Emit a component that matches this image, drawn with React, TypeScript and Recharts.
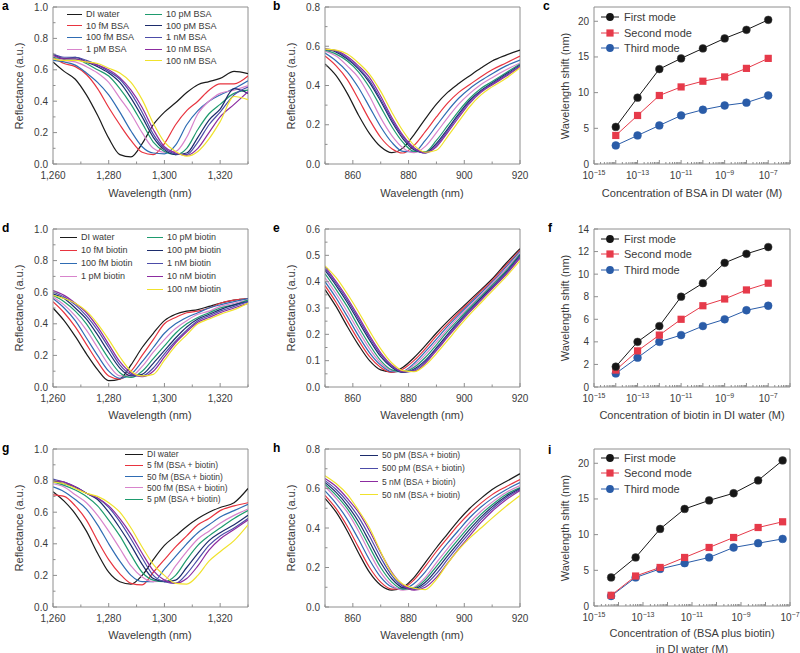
import React from 'react';
import { LineChart, Line, XAxis, YAxis, ReferenceLine } from 'recharts';

const FONT = '"Liberation Sans", Arial, Helvetica, sans-serif';
const AXIS = '#8e8e8e';
const INK = '#3a3a3a';

// one colour per concentration, same order in every spectrum panel
const curveColors = ['#1b1b1b', '#e8343f', '#2f6cb3', '#d884cc', '#1e9b6e', '#1c2c6c', '#4c4ca8', '#8c2ca0', '#f0e22c'];

// ---------- 1,260-1,330 nm band (panels a, d, g) ----------
const wlLong = [1260, 1264, 1268, 1272, 1276, 1280, 1284, 1288, 1292, 1296, 1300, 1304, 1308, 1312, 1316, 1320, 1325, 1330];

const aDI = [0.65, 0.59, 0.54, 0.44, 0.31, 0.165, 0.06, 0.045, 0.13, 0.25, 0.33, 0.39, 0.455, 0.505, 0.525, 0.545, 0.59, 0.575];
const a10f = [0.68, 0.64, 0.62, 0.57, 0.48, 0.36, 0.25, 0.15, 0.075, 0.06, 0.13, 0.25, 0.34, 0.40, 0.47, 0.51, 0.51, 0.56];
const a100f = [0.66, 0.65, 0.63, 0.58, 0.52, 0.44, 0.33, 0.21, 0.11, 0.07, 0.065, 0.12, 0.25, 0.34, 0.40, 0.44, 0.48, 0.53];
const a1p = [0.67, 0.66, 0.65, 0.62, 0.58, 0.52, 0.42, 0.32, 0.20, 0.10, 0.075, 0.08, 0.17, 0.32, 0.40, 0.45, 0.47, 0.50];
const a10p = [0.68, 0.67, 0.67, 0.64, 0.60, 0.56, 0.48, 0.38, 0.26, 0.14, 0.08, 0.06, 0.10, 0.22, 0.32, 0.38, 0.45, 0.47];
const a100p = [0.70, 0.67, 0.68, 0.65, 0.62, 0.58, 0.52, 0.42, 0.30, 0.17, 0.09, 0.06, 0.07, 0.17, 0.28, 0.35, 0.48, 0.45];
const a1n = [0.70, 0.68, 0.68, 0.66, 0.63, 0.59, 0.54, 0.45, 0.33, 0.19, 0.10, 0.065, 0.06, 0.14, 0.25, 0.33, 0.44, 0.49];
const a10n = [0.69, 0.67, 0.67, 0.65, 0.63, 0.60, 0.55, 0.47, 0.36, 0.22, 0.11, 0.07, 0.055, 0.10, 0.20, 0.30, 0.38, 0.46];
const a100n = [0.67, 0.66, 0.66, 0.65, 0.64, 0.61, 0.58, 0.52, 0.41, 0.26, 0.14, 0.08, 0.05, 0.08, 0.16, 0.27, 0.43, 0.41];
const aNames = ['DI water', '10 fM BSA', '100 fM BSA', '1 pM BSA', '10 pM BSA', '100 pM BSA', '1 nM BSA', '10 nM BSA', '100 nM BSA'];

const dDI = [0.50, 0.42, 0.32, 0.21, 0.11, 0.04, 0.05, 0.14, 0.25, 0.34, 0.42, 0.46, 0.48, 0.49, 0.51, 0.53, 0.55, 0.56];
const d10f = [0.54, 0.47, 0.38, 0.27, 0.16, 0.07, 0.05, 0.10, 0.20, 0.30, 0.40, 0.44, 0.47, 0.48, 0.50, 0.53, 0.55, 0.56];
const d100f = [0.56, 0.50, 0.42, 0.31, 0.20, 0.10, 0.055, 0.08, 0.16, 0.25, 0.34, 0.40, 0.44, 0.47, 0.50, 0.52, 0.54, 0.56];
const d1p = [0.57, 0.52, 0.45, 0.36, 0.25, 0.14, 0.07, 0.07, 0.13, 0.22, 0.30, 0.37, 0.42, 0.46, 0.48, 0.51, 0.53, 0.55];
const d10p = [0.58, 0.54, 0.48, 0.40, 0.29, 0.18, 0.09, 0.06, 0.10, 0.18, 0.26, 0.34, 0.40, 0.44, 0.47, 0.50, 0.52, 0.55];
const d100p = [0.59, 0.56, 0.50, 0.43, 0.33, 0.22, 0.12, 0.07, 0.08, 0.15, 0.23, 0.31, 0.38, 0.43, 0.46, 0.49, 0.52, 0.54];
const d1n = [0.60, 0.57, 0.52, 0.45, 0.36, 0.25, 0.14, 0.08, 0.07, 0.12, 0.21, 0.29, 0.36, 0.42, 0.45, 0.48, 0.51, 0.54];
const d10n = [0.61, 0.58, 0.53, 0.47, 0.38, 0.27, 0.16, 0.09, 0.065, 0.10, 0.19, 0.28, 0.35, 0.41, 0.44, 0.47, 0.50, 0.53];
const d100n = [0.58, 0.56, 0.53, 0.48, 0.40, 0.30, 0.19, 0.10, 0.07, 0.08, 0.17, 0.26, 0.33, 0.40, 0.43, 0.46, 0.49, 0.53];
const dNames = ['DI water', '10 fM biotin', '100 fM biotin', '1 pM biotin', '10 pM biotin', '100 pM biotin', '1 nM biotin', '10 nM biotin', '100 nM biotin'];

const gDI = [0.73, 0.67, 0.59, 0.48, 0.34, 0.22, 0.16, 0.145, 0.20, 0.30, 0.39, 0.45, 0.51, 0.56, 0.60, 0.63, 0.66, 0.75];
const g5f = [0.71, 0.70, 0.64, 0.55, 0.42, 0.30, 0.21, 0.15, 0.14, 0.22, 0.30, 0.38, 0.45, 0.52, 0.56, 0.61, 0.64, 0.66];
const g50f = [0.76, 0.73, 0.68, 0.62, 0.52, 0.40, 0.29, 0.20, 0.16, 0.16, 0.24, 0.32, 0.40, 0.47, 0.52, 0.57, 0.61, 0.65];
const g500f = [0.78, 0.76, 0.71, 0.66, 0.58, 0.48, 0.37, 0.26, 0.19, 0.16, 0.17, 0.26, 0.35, 0.43, 0.48, 0.53, 0.58, 0.62];
const g5p = [0.79, 0.77, 0.74, 0.70, 0.64, 0.55, 0.45, 0.33, 0.22, 0.17, 0.16, 0.20, 0.30, 0.39, 0.45, 0.50, 0.56, 0.61];
const g50p = [0.80, 0.78, 0.76, 0.72, 0.68, 0.60, 0.50, 0.39, 0.27, 0.18, 0.16, 0.17, 0.25, 0.34, 0.42, 0.47, 0.52, 0.58];
const g500p = [0.81, 0.79, 0.76, 0.72, 0.69, 0.63, 0.54, 0.43, 0.31, 0.20, 0.16, 0.15, 0.21, 0.30, 0.39, 0.45, 0.50, 0.56];
const g5n = [0.80, 0.79, 0.76, 0.72, 0.69, 0.64, 0.56, 0.46, 0.34, 0.23, 0.17, 0.15, 0.18, 0.26, 0.36, 0.43, 0.49, 0.55];
const g50n = [0.79, 0.78, 0.75, 0.72, 0.70, 0.66, 0.60, 0.50, 0.38, 0.27, 0.20, 0.15, 0.145, 0.20, 0.29, 0.35, 0.42, 0.52];
const gNames = ['DI water', '5 fM (BSA + biotin)', '50 fM (BSA + biotin)', '500 fM (BSA + biotin)', '5 pM (BSA + biotin)', '50 pM (BSA + biotin)', '500 pM (BSA + biotin)', '5 nM (BSA + biotin)', '50 nM (BSA + biotin)'];

// ---------- 850-920 nm band (panels b, e, h) ----------
const wlShort = [850, 854, 858, 862, 866, 870, 874, 878, 882, 886, 890, 894, 898, 902, 906, 910, 915, 920];

const bDI = [0.51, 0.45, 0.36, 0.25, 0.155, 0.088, 0.058, 0.082, 0.15, 0.23, 0.305, 0.365, 0.41, 0.45, 0.489, 0.525, 0.555, 0.58];
const b10f = [0.55, 0.50, 0.43, 0.33, 0.225, 0.135, 0.078, 0.056, 0.095, 0.165, 0.24, 0.31, 0.365, 0.405, 0.445, 0.48, 0.515, 0.55];
const b100f = [0.565, 0.525, 0.47, 0.39, 0.29, 0.19, 0.11, 0.064, 0.062, 0.12, 0.195, 0.27, 0.335, 0.385, 0.425, 0.46, 0.50, 0.53];
const b1p = [0.575, 0.55, 0.50, 0.44, 0.345, 0.235, 0.145, 0.082, 0.058, 0.09, 0.16, 0.235, 0.305, 0.36, 0.405, 0.44, 0.48, 0.515];
const b10p = [0.58, 0.56, 0.525, 0.47, 0.39, 0.29, 0.19, 0.11, 0.064, 0.062, 0.12, 0.195, 0.27, 0.335, 0.385, 0.42, 0.465, 0.51];
const b100p = [0.585, 0.57, 0.535, 0.485, 0.415, 0.32, 0.215, 0.128, 0.072, 0.058, 0.105, 0.178, 0.255, 0.325, 0.375, 0.413, 0.458, 0.505];
const b1n = [0.585, 0.575, 0.54, 0.49, 0.425, 0.33, 0.225, 0.138, 0.078, 0.056, 0.097, 0.17, 0.248, 0.318, 0.37, 0.408, 0.452, 0.50];
const b10n = [0.585, 0.578, 0.548, 0.50, 0.44, 0.345, 0.237, 0.146, 0.083, 0.057, 0.088, 0.16, 0.237, 0.31, 0.365, 0.403, 0.447, 0.495];
const b100n = [0.585, 0.58, 0.56, 0.515, 0.457, 0.37, 0.264, 0.168, 0.095, 0.06, 0.07, 0.14, 0.217, 0.293, 0.352, 0.393, 0.437, 0.49];

const eDI = [0.37, 0.305, 0.23, 0.16, 0.10, 0.065, 0.057, 0.075, 0.112, 0.157, 0.205, 0.249, 0.29, 0.33, 0.37, 0.41, 0.47, 0.525];
const e10f = [0.385, 0.321, 0.249, 0.178, 0.115, 0.074, 0.055, 0.068, 0.101, 0.145, 0.194, 0.239, 0.282, 0.323, 0.364, 0.404, 0.463, 0.52];
const e100f = [0.40, 0.338, 0.268, 0.195, 0.13, 0.083, 0.058, 0.06, 0.09, 0.134, 0.182, 0.23, 0.274, 0.316, 0.357, 0.398, 0.456, 0.515];
const e1p = [0.415, 0.354, 0.286, 0.213, 0.145, 0.091, 0.062, 0.058, 0.083, 0.123, 0.171, 0.22, 0.266, 0.308, 0.351, 0.393, 0.449, 0.51];
const e10p = [0.43, 0.37, 0.305, 0.23, 0.16, 0.10, 0.065, 0.057, 0.075, 0.112, 0.16, 0.211, 0.257, 0.301, 0.344, 0.387, 0.442, 0.505];
const e100p = [0.443, 0.385, 0.321, 0.249, 0.178, 0.115, 0.074, 0.055, 0.068, 0.101, 0.149, 0.20, 0.249, 0.294, 0.338, 0.381, 0.436, 0.50];
const e1n = [0.45, 0.393, 0.33, 0.259, 0.187, 0.123, 0.079, 0.057, 0.064, 0.096, 0.144, 0.194, 0.244, 0.29, 0.333, 0.377, 0.432, 0.495];
const e10n = [0.457, 0.40, 0.338, 0.268, 0.195, 0.13, 0.083, 0.058, 0.06, 0.09, 0.138, 0.189, 0.238, 0.285, 0.329, 0.373, 0.427, 0.49];
const e100n = [0.46, 0.415, 0.354, 0.286, 0.213, 0.145, 0.091, 0.062, 0.058, 0.083, 0.127, 0.177, 0.228, 0.276, 0.32, 0.364, 0.419, 0.48];

const hDI = [0.55, 0.48, 0.385, 0.275, 0.175, 0.11, 0.085, 0.10, 0.15, 0.225, 0.30, 0.37, 0.44, 0.50, 0.55, 0.595, 0.635, 0.675];
const h5f = [0.565, 0.498, 0.409, 0.303, 0.20, 0.126, 0.091, 0.096, 0.138, 0.206, 0.281, 0.35, 0.417, 0.476, 0.526, 0.569, 0.609, 0.645];
const h50f = [0.588, 0.524, 0.444, 0.344, 0.238, 0.151, 0.101, 0.091, 0.119, 0.178, 0.253, 0.323, 0.389, 0.453, 0.506, 0.55, 0.594, 0.63];
const h500f = [0.61, 0.55, 0.48, 0.385, 0.275, 0.175, 0.11, 0.085, 0.10, 0.15, 0.225, 0.296, 0.363, 0.429, 0.485, 0.531, 0.58, 0.615];
const h5p = [0.62, 0.565, 0.498, 0.409, 0.303, 0.20, 0.126, 0.091, 0.096, 0.138, 0.206, 0.277, 0.345, 0.411, 0.469, 0.518, 0.57, 0.605];
const h50p = [0.63, 0.58, 0.515, 0.433, 0.33, 0.225, 0.143, 0.098, 0.093, 0.125, 0.188, 0.259, 0.327, 0.394, 0.455, 0.507, 0.561, 0.60];
const h500p = [0.64, 0.595, 0.533, 0.456, 0.358, 0.25, 0.159, 0.104, 0.089, 0.113, 0.169, 0.241, 0.311, 0.378, 0.442, 0.496, 0.553, 0.595];
const h5n = [0.65, 0.61, 0.55, 0.48, 0.385, 0.275, 0.175, 0.11, 0.085, 0.10, 0.15, 0.222, 0.294, 0.361, 0.428, 0.485, 0.543, 0.59];
const h50n = [0.665, 0.625, 0.57, 0.49, 0.40, 0.28, 0.17, 0.115, 0.095, 0.088, 0.14, 0.22, 0.29, 0.35, 0.40, 0.45, 0.51, 0.565];

// ---------- wavelength shift vs concentration (panels c, f, i) ----------
const concSingle = [1e-14, 1e-13, 1e-12, 1e-11, 1e-10, 1e-9, 1e-8, 1e-7];
const concMixed = [5e-15, 5e-14, 5e-13, 5e-12, 5e-11, 5e-10, 5e-9, 5e-8];

const cFirst = [5.2, 9.3, 13.3, 14.8, 16.2, 17.6, 18.8, 20.2];
const cSecond = [4.0, 6.8, 9.6, 10.8, 11.6, 12.2, 13.4, 14.8];
const cThird = [2.6, 4.0, 5.4, 6.8, 7.6, 8.2, 8.6, 9.6];

const fFirst = [1.8, 4.0, 5.4, 8.0, 9.2, 11.0, 11.8, 12.4];
const fSecond = [1.5, 3.2, 4.6, 6.0, 7.2, 7.8, 8.6, 9.2];
const fThird = [1.2, 2.6, 4.0, 4.6, 5.4, 6.0, 6.8, 7.2];

const iFirst = [4.0, 6.8, 10.8, 13.6, 14.8, 15.8, 17.6, 20.4];
const iSecond = [1.5, 4.2, 5.4, 6.8, 8.2, 9.6, 11.0, 11.8];
const iThird = [1.4, 4.0, 5.2, 6.0, 6.8, 8.2, 8.8, 9.4];

const modeNames = ['First mode', 'Second mode', 'Third mode'];
const modeColors = ['#161616', '#e63a4a', '#2a5ca8'];

// ---------- ticks ----------
const xTicksLong = [1260, 1270, 1280, 1290, 1300, 1310, 1320, 1330];
const xMajorLong = [1260, 1280, 1300, 1320];
const xTicksShort = [850, 860, 870, 880, 890, 900, 910, 920];
const xMajorShort = [860, 880, 900, 920];
const yTicks10 = [0, 0.1, 0.2, 0.3, 0.4, 0.5, 0.6, 0.7, 0.8, 0.9, 1.0];
const yMajor10 = [0, 0.2, 0.4, 0.6, 0.8, 1.0];
const yTicks08 = [0, 0.1, 0.2, 0.3, 0.4, 0.5, 0.6, 0.7, 0.8];
const yMajor08 = [0, 0.2, 0.4, 0.6, 0.8];
const yTicks06 = [0, 0.05, 0.1, 0.15, 0.2, 0.25, 0.3, 0.35, 0.4, 0.45, 0.5, 0.55, 0.6];
const yMajor06 = [0, 0.1, 0.2, 0.3, 0.4, 0.5, 0.6];

const logTicks = (from: number, to: number) => {
  const t: number[] = [];
  for (let e = from; e < to; e++) for (let k = 1; k < 10; k++) t.push(k * Math.pow(10, e));
  t.push(Math.pow(10, to));
  return t;
};

const near = (list: number[], v: number) => list.some((m) => Math.abs(m - v) < 1e-6);

const bottomTick = (majors: number[], fmt: (v: number) => string) => (props: any) => {
  const { x, y, payload } = props;
  const major = near(majors, payload.value);
  return (
    <g key={`xt-${payload.value}`}>
      <line x1={x} x2={x} y1={y} y2={y - (major ? 4 : 2.5)} stroke={AXIS} />
      {major && (
        <text x={x} y={y + 15} textAnchor="middle" fontSize={10} fill={INK} fontFamily={FONT}>
          {fmt(payload.value)}
        </text>
      )}
    </g>
  );
};

const leftTick = (majors: number[], fmt: (v: number) => string) => (props: any) => {
  const { x, y, payload } = props;
  const major = near(majors, payload.value);
  return (
    <g key={`yt-${payload.value}`}>
      <line x1={x} x2={x + (major ? 4 : 2.5)} y1={y} y2={y} stroke={AXIS} />
      {major && (
        <text x={x - 5} y={y + 3.5} textAnchor="end" fontSize={10} fill={INK} fontFamily={FONT}>
          {fmt(payload.value)}
        </text>
      )}
    </g>
  );
};

const logTick = (props: any) => {
  const { x, y, payload } = props;
  const v = payload.value;
  const e = Math.round(Math.log10(v));
  const decade = Math.abs(v / Math.pow(10, e) - 1) < 1e-6;
  const labelled = decade && Math.abs(e) % 2 === 1;
  return (
    <g key={`lt-${v}`}>
      <line x1={x} x2={x} y1={y} y2={y - (decade ? 4 : 2)} stroke={AXIS} />
      {labelled && (
        <text x={x} y={y + 15} textAnchor="middle" fontSize={10} fill={INK} fontFamily={FONT}>
          10<tspan dy={-4} fontSize={7}>{`\u2212${Math.abs(e)}`}</tspan>
        </text>
      )}
    </g>
  );
};

const fmtComma = (v: number) => v.toLocaleString('en-US');
const fmt1 = (v: number) => v.toFixed(1);
const fmt0 = (v: number) => String(Math.round(v));

const L = 50;
const T = 8;
const R = 12;
const B = 45;

type SpecProps = {
  x: number; y: number; w: number; h: number;
  wl: number[]; curves: number[][];
  xDomain: [number, number]; yDomain: [number, number];
  xTicks: number[]; xMajor: number[]; yTicks: number[]; yMajor: number[];
};

function SpectrumPanel(p: SpecProps) {
  const data = p.wl.map((w, i) => {
    const row: Record<string, number> = { w };
    p.curves.forEach((c, k) => { row['s' + k] = c[i]; });
    return row;
  });
  return (
    <div style={{ position: 'absolute', left: p.x - L, top: p.y - T }}>
      <LineChart width={p.w + L + R} height={p.h + T + B} data={data} margin={{ top: T, right: R, left: 0, bottom: 0 }}>
        <XAxis dataKey="w" type="number" domain={p.xDomain} ticks={p.xTicks} interval={0} height={B}
          tickSize={0} tickMargin={0} tickLine={false} tick={bottomTick(p.xMajor, fmtComma)} stroke={AXIS} allowDataOverflow />
        <YAxis type="number" domain={p.yDomain} ticks={p.yTicks} interval={0} width={L}
          tickSize={0} tickMargin={0} tickLine={false} tick={leftTick(p.yMajor, fmt1)} stroke={AXIS} allowDataOverflow />
        <ReferenceLine x={p.xDomain[1]} stroke={AXIS} />
        <ReferenceLine y={p.yDomain[1]} stroke={AXIS} />
        {p.curves.map((_, k) => (
          <Line key={k} dataKey={'s' + k} type="monotone" stroke={curveColors[k]} strokeWidth={1.2}
            dot={false} isAnimationActive={false} />
        ))}
      </LineChart>
    </div>
  );
}

type ModeProps = {
  x: number; y: number; w: number; h: number;
  conc: number[]; first: number[]; second: number[]; third: number[];
  xDomain: [number, number]; yDomain: [number, number]; yTicks: number[];
};

const squareDot = (props: any) => (
  <rect key={`sq-${props.index}`} x={props.cx - 3.6} y={props.cy - 3.6} width={7.2} height={7.2} fill={modeColors[1]} />
);

function ModePanel(p: ModeProps) {
  const data = p.conc.map((c, i) => ({ c, first: p.first[i], second: p.second[i], third: p.third[i] }));
  const xt = logTicks(Math.round(Math.log10(p.xDomain[0])), Math.round(Math.log10(p.xDomain[1])));
  return (
    <div style={{ position: 'absolute', left: p.x - L, top: p.y - T }}>
      <LineChart width={p.w + L + R} height={p.h + T + B} data={data} margin={{ top: T, right: R, left: 0, bottom: 0 }}>
        <XAxis dataKey="c" type="number" scale="log" domain={p.xDomain} ticks={xt} interval={0} height={B}
          tickSize={0} tickMargin={0} tickLine={false} tick={logTick} stroke={AXIS} allowDataOverflow />
        <YAxis type="number" domain={p.yDomain} ticks={p.yTicks} interval={0} width={L}
          tickSize={0} tickMargin={0} tickLine={false} tick={leftTick(p.yTicks, fmt0)} stroke={AXIS} allowDataOverflow />
        <ReferenceLine x={p.xDomain[1]} stroke={AXIS} />
        <ReferenceLine y={p.yDomain[1]} stroke={AXIS} />
        <Line dataKey="third" type="linear" stroke={modeColors[2]} strokeWidth={1}
          dot={{ r: 3.9, fill: modeColors[2], stroke: modeColors[2], strokeWidth: 0.5 }} isAnimationActive={false} />
        <Line dataKey="second" type="linear" stroke={modeColors[1]} strokeWidth={1}
          dot={squareDot} isAnimationActive={false} />
        <Line dataKey="first" type="linear" stroke={modeColors[0]} strokeWidth={1}
          dot={{ r: 3.9, fill: modeColors[0], stroke: '#444', strokeWidth: 0.5 }} isAnimationActive={false} />
      </LineChart>
    </div>
  );
}

const Txt = ({ x, y, children, size = 11, rotate = false, weight = 400, anchor = 'center' }: any) => (
  <div style={{
    position: 'absolute', left: x, top: y, whiteSpace: 'nowrap', fontSize: size, fontWeight: weight,
    color: weight > 400 ? '#000' : INK, lineHeight: 1, fontFamily: FONT,
    transform: `${anchor === 'center' ? 'translate(-50%,-50%)' : 'translate(0,-50%)'}${rotate ? ' rotate(-90deg)' : ''}`,
  }}>{children}</div>
);

const KeyRow = ({ x, y, w, color, label, size }: any) => (
  <div style={{ position: 'absolute', left: x, top: y - 6, height: 12, display: 'flex', alignItems: 'center',
    whiteSpace: 'nowrap', fontSize: size, color: INK, fontFamily: FONT }}>
    <span style={{ display: 'inline-block', width: w, height: 0, borderTop: `1.5px solid ${color}`, marginRight: 4 }} />
    {label}
  </div>
);

const ModeKey = ({ x, ys }: { x: number; ys: number[] }) => (
  <>
    {modeNames.map((name, k) => (
      <div key={name} style={{ position: 'absolute', left: x, top: ys[k] - 7, height: 14, display: 'flex',
        alignItems: 'center', whiteSpace: 'nowrap', fontSize: 11, color: INK, fontFamily: FONT }}>
        <svg width={18} height={10} style={{ marginRight: 5 }}>
          <line x1={0} x2={18} y1={5} y2={5} stroke={modeColors[k]} strokeWidth={1} />
          {k === 1 ? <rect x={5.4} y={1.4} width={7.2} height={7.2} fill={modeColors[1]} />
            : <circle cx={9} cy={5} r={3.9} fill={modeColors[k]} />}
        </svg>
        {name}
      </div>
    ))}
  </>
);

const ROW1 = 7;
const ROW2 = 229;
const ROW3 = 449;
const PH = 157;
const COL1 = 53;
const COL2 = 325;
const COL3 = 594;

export default function App() {
  const aCurves = [aDI, a10f, a100f, a1p, a10p, a100p, a1n, a10n, a100n];
  const bCurves = [bDI, b10f, b100f, b1p, b10p, b100p, b1n, b10n, b100n];
  const dCurves = [dDI, d10f, d100f, d1p, d10p, d100p, d1n, d10n, d100n];
  const eCurves = [eDI, e10f, e100f, e1p, e10p, e100p, e1n, e10n, e100n];
  const gCurves = [gDI, g5f, g50f, g500f, g5p, g50p, g500p, g5n, g50n];
  const hCurves = [hDI, h5f, h50f, h500f, h5p, h50p, h500p, h5n, h50n];

  const longX = { wl: wlLong, xDomain: [1260, 1330] as [number, number], xTicks: xTicksLong, xMajor: xMajorLong };
  const shortX = { wl: wlShort, xDomain: [850, 920] as [number, number], xTicks: xTicksShort, xMajor: xMajorShort };

  const rows = [ROW1, ROW2, ROW3];

  return (
    <div style={{ position: 'fixed', left: 0, top: 0, width: 800, height: 653, background: '#fff', overflow: 'hidden', fontFamily: FONT }}>
      <SpectrumPanel x={COL1} y={ROW1} w={195} h={PH} curves={aCurves} {...longX}
        yDomain={[0, 1]} yTicks={yTicks10} yMajor={yMajor10} />
      <SpectrumPanel x={COL2} y={ROW1} w={195} h={PH} curves={bCurves} {...shortX}
        yDomain={[0, 0.8]} yTicks={yTicks08} yMajor={yMajor08} />
      <ModePanel x={COL3} y={ROW1} w={196} h={PH} conc={concSingle} first={cFirst} second={cSecond} third={cThird}
        xDomain={[1e-15, 1e-6]} yDomain={[0, 22]} yTicks={[0, 5, 10, 15, 20]} />

      <SpectrumPanel x={COL1} y={ROW2} w={195} h={158} curves={dCurves} {...longX}
        yDomain={[0, 1]} yTicks={yTicks10} yMajor={yMajor10} />
      <SpectrumPanel x={COL2} y={ROW2} w={195} h={158} curves={eCurves} {...shortX}
        yDomain={[0, 0.6]} yTicks={yTicks06} yMajor={yMajor06} />
      <ModePanel x={COL3} y={ROW2} w={196} h={158} conc={concSingle} first={fFirst} second={fSecond} third={fThird}
        xDomain={[1e-15, 1e-6]} yDomain={[0, 14]} yTicks={[0, 2, 4, 6, 8, 10, 12, 14]} />

      <SpectrumPanel x={COL1} y={ROW3} w={195} h={158} curves={gCurves} {...longX}
        yDomain={[0, 1]} yTicks={yTicks10} yMajor={yMajor10} />
      <SpectrumPanel x={COL2} y={ROW3} w={195} h={158} curves={hCurves} {...shortX}
        yDomain={[0, 0.8]} yTicks={yTicks08} yMajor={yMajor08} />
      <ModePanel x={COL3} y={ROW3} w={196} h={PH} conc={concMixed} first={iFirst} second={iSecond} third={iThird}
        xDomain={[1e-15, 1e-7]} yDomain={[0, 22]} yTicks={[0, 5, 10, 15, 20]} />

      {/* axis titles */}
      {rows.map((r) => (
        <React.Fragment key={r}>
          <Txt x={19} y={r + 79} rotate>Reflectance (a.u.)</Txt>
          <Txt x={291} y={r + 79} rotate>Reflectance (a.u.)</Txt>
          <Txt x={565} y={r + 79} rotate>Wavelength shift (nm)</Txt>
          <Txt x={150} y={r + 186}>Wavelength (nm)</Txt>
          <Txt x={422} y={r + 186}>Wavelength (nm)</Txt>
        </React.Fragment>
      ))}
      <Txt x={692} y={ROW1 + 186}>Concentration of BSA in DI water (M)</Txt>
      <Txt x={692} y={ROW2 + 186}>Concentration of biotin in DI water (M)</Txt>
      <Txt x={692} y={ROW3 + 184}>Concentration of (BSA plus biotin)</Txt>
      <Txt x={692} y={ROW3 + 200}>in DI water (M)</Txt>

      {/* panel letters */}
      {[['a', 2, 6], ['b', 273, 6], ['c', 543, 6], ['d', 2, 228], ['e', 273, 228], ['f', 548, 228], ['g', 2, 448], ['h', 273, 448], ['i', 548, 450]].map(([t, x, y]) => (
        <Txt key={t as string} x={x} y={y} size={12} weight={700} anchor="left">{t}</Txt>
      ))}

      {/* spectrum legends */}
      {aNames.map((n, k) => (
        <KeyRow key={'a' + n} x={k < 4 ? 67 : 145} y={14 + (k < 4 ? k : k - 4) * 11.7} w={k < 4 ? 15 : 17} color={curveColors[k]} label={n} size={9} />
      ))}
      {dNames.map((n, k) => (
        <KeyRow key={'d' + n} x={k < 4 ? 60 : 147} y={237 + (k < 4 ? k : k - 4) * 13} w={k < 4 ? 17 : 16} color={curveColors[k]} label={n} size={9} />
      ))}
      {gNames.slice(0, 5).map((n, k) => (
        <KeyRow key={'g' + n} x={125} y={454 + k * 11.3} w={18} color={curveColors[k]} label={n} size={8.5} />
      ))}
      {gNames.slice(5).map((n, k) => (
        <KeyRow key={'h' + n} x={360} y={455 + k * 13.3} w={18} color={curveColors[k + 5]} label={n} size={8.5} />
      ))}

      <ModeKey x={601} ys={[17, 33, 48]} />
      <ModeKey x={601} ys={[239, 254, 270]} />
      <ModeKey x={601} ys={[458, 473, 489]} />
    </div>
  );
}
